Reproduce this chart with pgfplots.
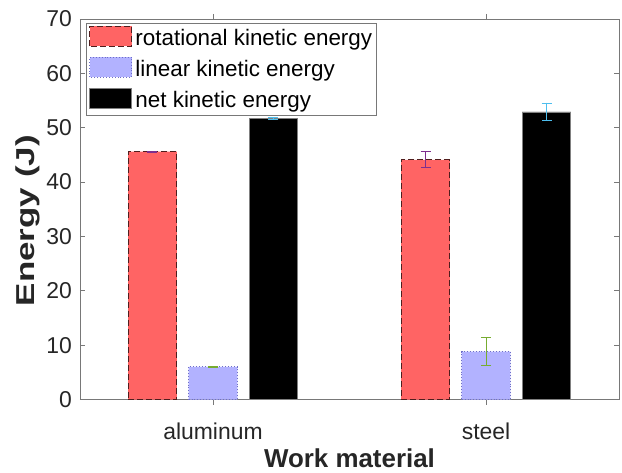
\documentclass[border=0pt]{standalone}
\usepackage{pgfplots}
\pgfplotsset{compat=1.18}
\usepackage{fontspec}
\setmainfont{Liberation Sans}
\definecolor{rotc}{RGB}{255,100,100}
\definecolor{rotedge}{RGB}{80,30,30}
\definecolor{linc}{RGB}{178,178,255}
\definecolor{linedge}{RGB}{110,110,200}
\definecolor{errp}{RGB}{126,47,142}
\definecolor{errg}{RGB}{119,172,48}
\definecolor{errc}{RGB}{77,190,238}
\definecolor{axc}{RGB}{120,120,120}
\pgfplotsset{
  mylegend/.style={legend image code/.code={\draw[##1] (0bp,-6bp) rectangle (42bp,14bp);}},
}
\begin{document}
\begin{tikzpicture}
\begin{axis}[
  scale only axis, width=539bp, height=380.5bp,
  xmin=0.513, xmax=2.487, ymin=0, ymax=70,
  xtick={1,2}, xticklabels={aluminum,steel},
  ytick={0,10,...,70},
  tick align=inside,
  major tick length=5bp,
  axis line style={draw=axc, line width=0.8bp},
  every tick/.style={draw=axc, line width=0.8bp},
  /pgf/number format/assume math mode=true,
  tick label style={font=\fontsize{23}{27}\selectfont, text=black!85},
  xticklabel style={anchor=base, yshift=-34.5bp},
  yticklabel style={anchor=east, inner sep=0pt, xshift=-8bp},
  xlabel={Work material},
  ylabel={\scalebox{1.35}[1]{Energy (J)}},
  label style={font=\fontsize{26}{30}\selectfont\bfseries, text=black!85},
  xlabel style={at={(axis description cs:0.5,0)}, anchor=base, yshift=-67.8bp},
  ylabel style={at={(axis description cs:-0.0974,0.47)}, anchor=center},
  ybar, bar width=0.178,
  legend style={at={(axis description cs:0.011,0.9887)}, anchor=north west,
    draw=axc, line width=0.8bp, font=\fontsize{22.5}{26}\selectfont,
    inner xsep=3bp, inner ysep=2bp,
    nodes={inner sep=1bp, text height=16bp, text depth=5bp},
    row sep=5bp, column sep=2bp},
  legend cell align=left,
]
\addplot[fill=rotc, draw=rotedge, line width=1.1bp, dash pattern=on 6bp off 3bp,
  bar shift=-0.2216, mylegend,
  error bars/.cd, y dir=both, y explicit,
  error bar style={solid, draw=errp, line width=0.9bp},
  error mark options={solid, rotate=90, draw=errp, mark size=5bp, line width=0.9bp}]
  coordinates {(1,45.6) +- (0,0.1) (2,44.1) +- (0,1.45)};
\addlegendentry{rotational kinetic energy}
\addplot[fill=linc, draw=linedge, line width=0.9bp, dotted,
  bar shift=0, mylegend,
  error bars/.cd, y dir=both, y explicit,
  error bar style={solid, draw=errg, line width=0.9bp},
  error mark options={solid, rotate=90, draw=errg, mark size=5bp, line width=0.9bp}]
  coordinates {(1,6.0) +- (0,0.15) (2,8.8) +- (0,2.6)};
\addlegendentry{linear kinetic energy}
\addplot[fill=black, draw=gray, line width=0.8bp,
  bar shift=0.2216, mylegend,
  error bars/.cd, y dir=both, y explicit,
  error bar style={solid, draw=errc, line width=0.9bp},
  error mark options={solid, rotate=90, draw=errc, mark size=5bp, line width=0.9bp}]
  coordinates {(1,51.7) +- (0,0.1) (2,52.9) +- (0,1.65)};
\addlegendentry{net kinetic energy}
\end{axis}
\path ([shift={(-80bp,-73.5bp)}]current axis.south west) rectangle ([shift={(3bp,19bp)}]current axis.north east);
\end{tikzpicture}
\end{document}
